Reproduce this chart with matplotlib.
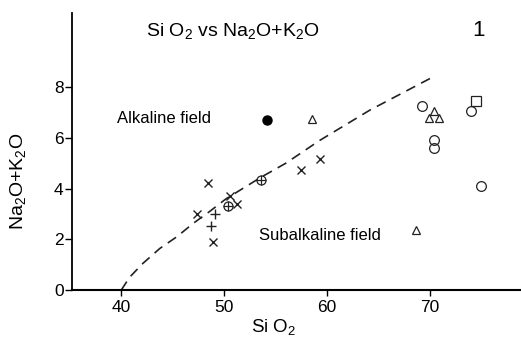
import numpy as np
import matplotlib
matplotlib.use("Agg")
import matplotlib.pyplot as plt

plt.rcParams['font.family'] = ['Liberation Sans', 'DejaVu Sans']
plt.rcParams['mathtext.default'] = 'regular'

# alkaline / subalkaline boundary (dashed)
curve_x = [40.0, 40.8, 42.1, 43.75, 45.4, 47.0, 48.6, 50.2, 52.0, 53.6, 56.0, 59.3, 64.2, 70.3]
curve_y = [0.0, 0.5, 1.05, 1.64, 2.1, 2.63, 3.1, 3.6, 4.05, 4.45, 5.0, 5.9, 7.1, 8.4]

# samples, grouped by symbol
cross_x = [48.4, 47.4, 50.6, 51.3, 48.9, 57.5, 59.3]
cross_y = [4.23, 3.0, 3.71, 3.38, 1.88, 4.74, 5.16]
plus_x = [49.1, 48.7]
plus_y = [3.01, 2.53]
oplus_x = [50.4, 53.6]
oplus_y = [3.33, 4.35]
dot_x = [54.2]
dot_y = [6.71]
tri_x = [58.6, 68.7, 70.4, 69.9, 70.9]
tri_y = [6.76, 2.37, 7.06, 6.78, 6.78]
circ_x = [69.3, 70.4, 70.4, 74.0, 75.0]
circ_y = [7.26, 5.92, 5.59, 7.06, 4.10]
sq_x = [74.5]
sq_y = [7.47]

xticks = [40, 50, 60, 70]
yticks = [0, 2, 4, 6, 8]

fig = plt.figure(figsize=(5.21, 3.39), dpi=100)
ax = fig.add_axes([72 / 521, 49 / 339, 1 - 72 / 521, 277 / 339])

ax.plot(curve_x, curve_y, color='#222222', lw=1.2, dashes=(6, 4))

k = '#222222'
ax.plot(cross_x, cross_y, 'x', color=k, ms=5.5, mew=1.0)
ax.plot(plus_x, plus_y, '+', color=k, ms=7, mew=1.0)
ax.plot(oplus_x, oplus_y, 'o', mfc='none', mec=k, ms=6.5, mew=0.9)
ax.plot(oplus_x, oplus_y, '+', color=k, ms=6.5, mew=0.9)
ax.plot(dot_x, dot_y, 'o', color='black', ms=6.5)
ax.plot(tri_x, tri_y, '^', mfc='none', mec=k, ms=6, mew=0.9)
ax.plot(circ_x, circ_y, 'o', mfc='none', mec=k, ms=7, mew=0.9)
ax.plot(sq_x, sq_y, 's', mfc='none', mec=k, ms=6.5, mew=0.9)

ax.set_xlim(35.2, 78.9)
ax.set_ylim(0, 10.93)
ax.spines['top'].set_visible(False)
ax.spines['right'].set_visible(False)
ax.spines['left'].set_linewidth(1.3)
ax.spines['bottom'].set_linewidth(1.5)
ax.set_xticks(xticks)
ax.set_yticks(yticks)
ax.tick_params(axis='x', length=4, width=1.0, pad=3, labelsize=12.5)
ax.tick_params(axis='y', length=5, width=1.0, pad=1, labelsize=12.5)

fig.text(233 / 521, 1 - 31 / 339, 'Si O$_2$ vs Na$_2$O+K$_2$O', ha='center', va='center', fontsize=14)
fig.text(478 / 521, 1 - 31 / 339, '1', ha='center', va='center', fontsize=16)
fig.text(164 / 521, 1 - 119 / 339, 'Alkaline field', ha='center', va='center', fontsize=12)
fig.text(320 / 521, 1 - 235 / 339, 'Subalkaline field', ha='center', va='center', fontsize=12)
fig.text(274 / 521, 1 - 327 / 339, 'Si O$_2$', ha='center', va='center', fontsize=13.5)
fig.text(18 / 521, 1 - 181 / 339, 'Na$_2$O+K$_2$O', ha='center', va='center', rotation=90, fontsize=14)

fig.savefig('out.png', dpi=100)
